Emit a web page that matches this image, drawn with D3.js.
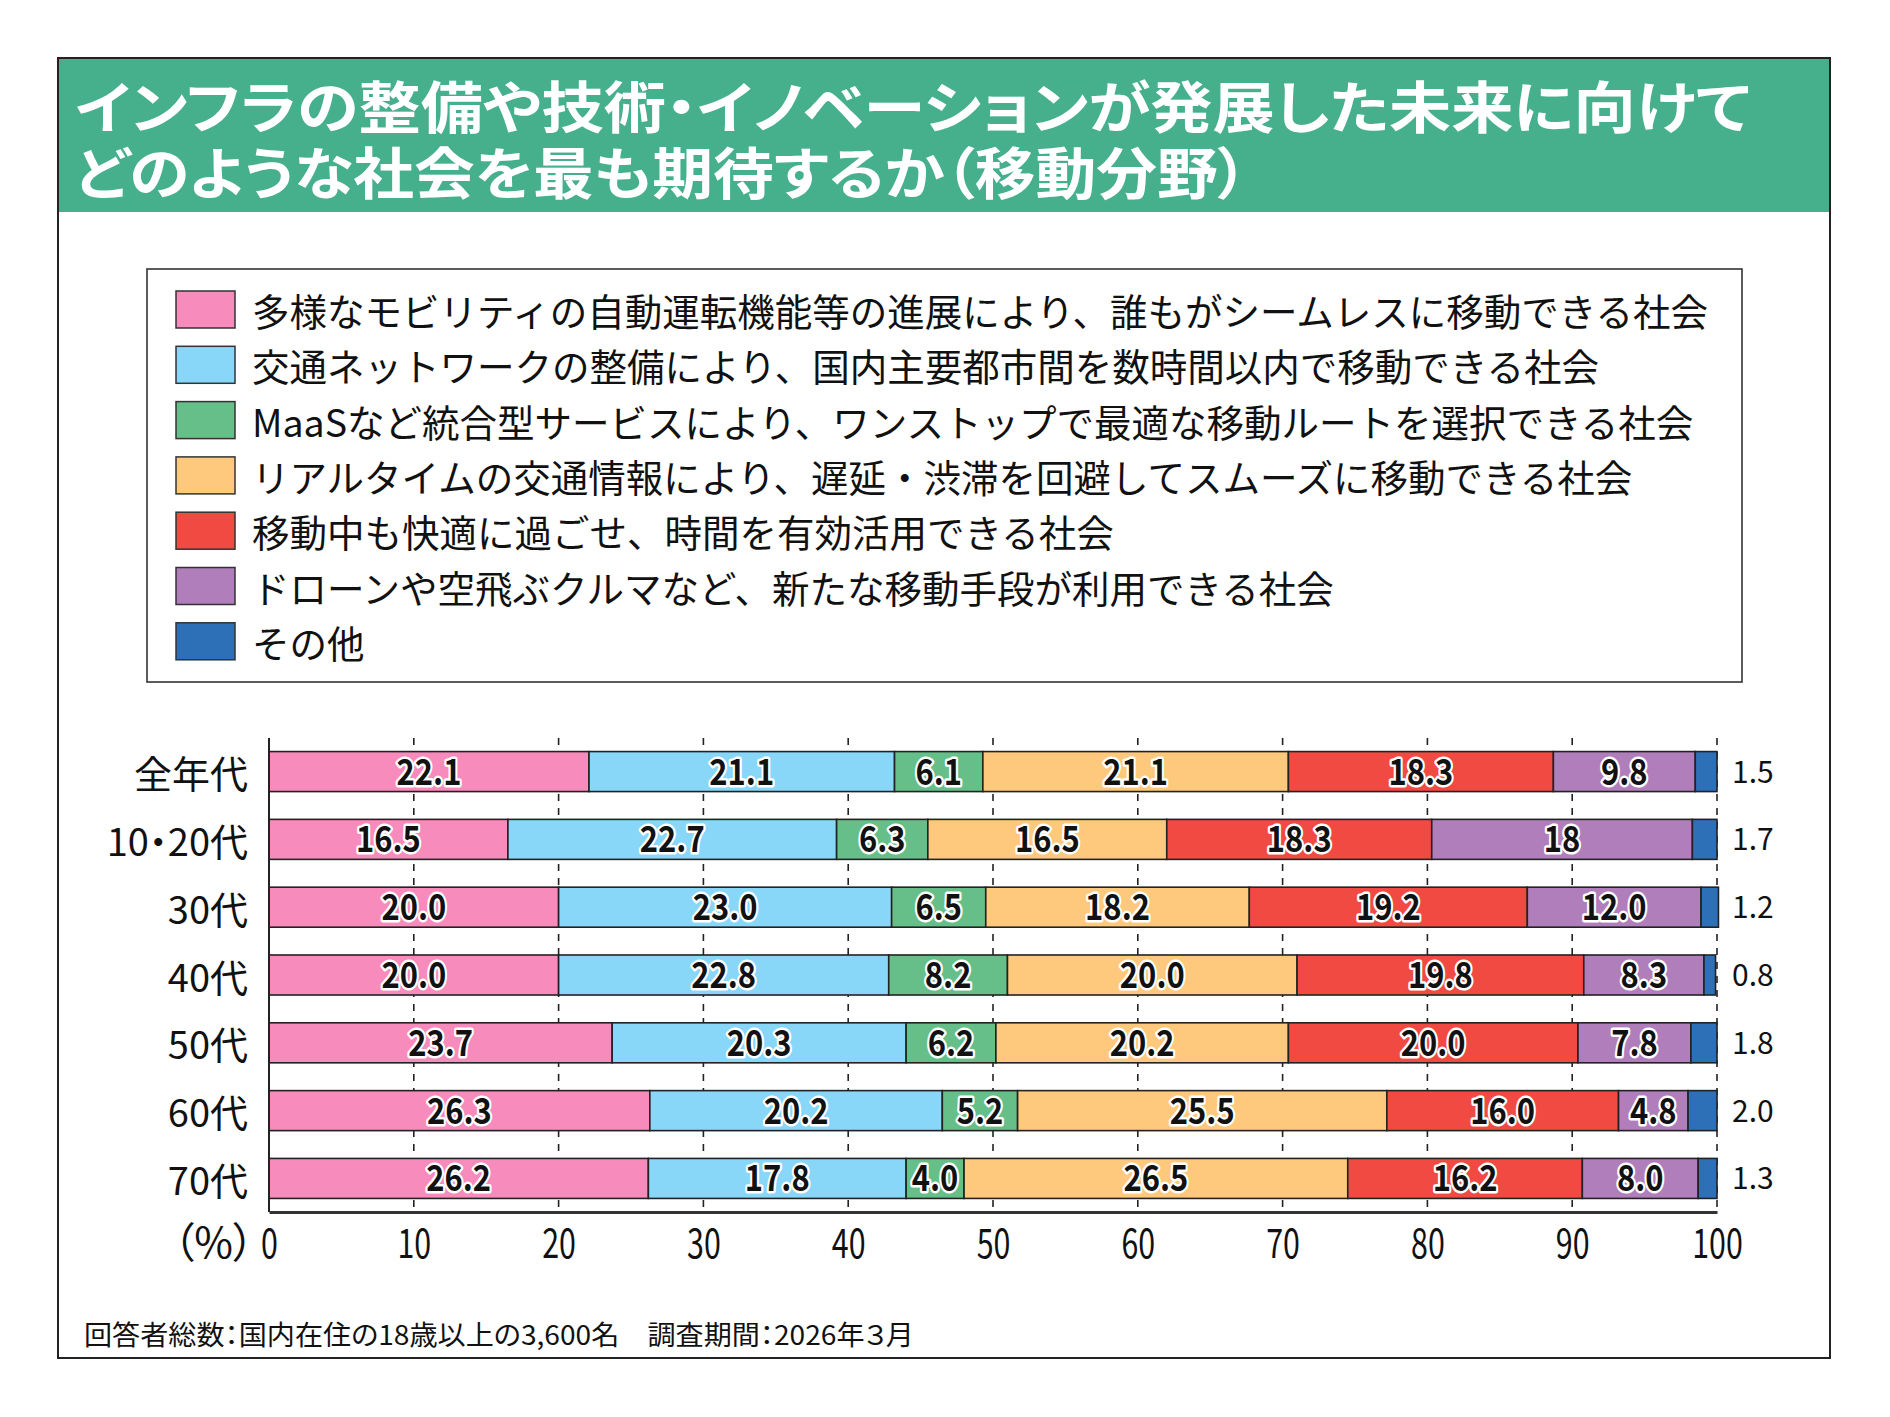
<!DOCTYPE html>
<html><head><meta charset="utf-8">
<script src="https://cdn.jsdelivr.net/npm/d3@7"></script>
<style>
html,body{margin:0;padding:0;background:#fff}
text{font-family:"Noto Sans CJK JP","Noto Sans",sans-serif}
.palt{font-feature-settings:"palt"}
</style>
</head><body>
<svg id="chart" width="1890" height="1417"></svg>
<script>
// ---------- data ----------
const titleLines = [
  "インフラの整備や技術・イノベーションが発展した未来に向けて",
  "どのような社会を最も期待するか（移動分野）"
];
const categories = ["全年代","10・20代","30代","40代","50代","60代","70代"];
const seriesNames = [
  "多様なモビリティの自動運転機能等の進展により、誰もがシームレスに移動できる社会",
  "交通ネットワークの整備により、国内主要都市間を数時間以内で移動できる社会",
  "MaaSなど統合型サービスにより、ワンストップで最適な移動ルートを選択できる社会",
  "リアルタイムの交通情報により、遅延・渋滞を回避してスムーズに移動できる社会",
  "移動中も快適に過ごせ、時間を有効活用できる社会",
  "ドローンや空飛ぶクルマなど、新たな移動手段が利用できる社会",
  "その他"
];
const seriesColors = ["#F78BBB","#88D6F8","#66BF88","#FEC97C","#F04A43","#B07EBA","#2E70B8"];
// values per series, in category order (as printed)
const sMobility = ["22.1","16.5","20.0","20.0","23.7","26.3","26.2"];
const sNetwork  = ["21.1","22.7","23.0","22.8","20.3","20.2","17.8"];
const sMaaS     = ["6.1","6.3","6.5","8.2","6.2","5.2","4.0"];
const sRealtime = ["21.1","16.5","18.2","20.0","20.2","25.5","26.5"];
const sComfort  = ["18.3","18.3","19.2","19.8","20.0","16.0","16.2"];
const sDrone    = ["9.8","18","12.0","8.3","7.8","4.8","8.0"];
const sOther    = ["1.5","1.7","1.2","0.8","1.8","2.0","1.3"];
const xTicks = [0,10,20,30,40,50,60,70,80,90,100];
const unitLabel = "（%）";
const footnote = "回答者総数：国内在住の18歳以上の3,600名　調査期間：2026年３月";

// ---------- build ----------
const seriesValues = [sMobility,sNetwork,sMaaS,sRealtime,sComfort,sDrone,sOther];
const keys = seriesValues.map((_,i)=>"s"+i);
const table = categories.map((c,ci)=>{
  const row = {cat:c};
  keys.forEach((k,si)=>{ row[k] = +seriesValues[si][ci]; row[k+"_label"] = seriesValues[si][ci]; });
  return row;
});
const stacked = d3.stack().keys(keys)(table);

const svg = d3.select("#chart");
const W = 1890, H = 1417;
svg.append("rect").attr("width",W).attr("height",H).attr("fill","#fff");

// frame + header
svg.append("rect").attr("x",58).attr("y",58).attr("width",1772).attr("height",154).attr("fill","#45B08B");
svg.append("rect").attr("x",58).attr("y",58).attr("width",1772).attr("height",1300)
  .attr("fill","none").attr("stroke","#222").attr("stroke-width",2);

const titleWidths = [1675,1173];
svg.selectAll("text.title").data(titleLines).join("text")
  .attr("class","title palt")
  .attr("x",75).attr("y",(d,i)=>103+i*66)
  .attr("dominant-baseline","central")
  .attr("font-size",56).attr("font-weight",700).attr("fill","#fff")
  .attr("textLength",(d,i)=>titleWidths[i]).attr("lengthAdjust","spacingAndGlyphs")
  .text(d=>d);

// legend
const lg = svg.append("g");
lg.append("rect").attr("x",147).attr("y",269).attr("width",1595).attr("height",413)
  .attr("fill","#fff").attr("stroke","#333").attr("stroke-width",1.6);
const li = lg.selectAll("g.li").data(seriesNames).join("g").attr("class","li")
  .attr("transform",(d,i)=>`translate(0,${291+i*55.3})`);
li.append("rect").attr("x",176).attr("y",0).attr("width",59).attr("height",37)
  .attr("fill",(d,i)=>seriesColors[i]).attr("stroke","#333").attr("stroke-width",1.5);
li.append("text").attr("x",252).attr("y",18.5).attr("dominant-baseline","central")
  .attr("font-size",37.5).attr("fill","#111").text(d=>d);

// scales
const x = d3.scaleLinear().domain([0,100]).range([269,1717]);
const y = d3.scaleBand().domain(categories).range([738,1212]).paddingInner(0.41).paddingOuter(0.2);

// grid
svg.append("g").selectAll("line").data(xTicks.filter(t=>t>0)).join("line")
  .attr("x1",d=>x(d)).attr("x2",d=>x(d)).attr("y1",738).attr("y2",1212)
  .attr("stroke","#222").attr("stroke-width",1.6).attr("stroke-dasharray","7,7");

// bars
const layers = svg.append("g").selectAll("g").data(stacked).join("g")
  .attr("fill",(d,i)=>seriesColors[i]);
layers.selectAll("rect").data(d=>d).join("rect")
  .attr("x",d=>x(d[0])).attr("width",d=>x(d[1])-x(d[0]))
  .attr("y",d=>y(d.data.cat)).attr("height",y.bandwidth())
  .attr("stroke","#222").attr("stroke-width",1.6);

// labels inside bars (all but last series)
const lbl = svg.append("g");
stacked.forEach((layer,si)=>{
  if(si===stacked.length-1) return;
  lbl.selectAll(null).data(layer).join("text")
    .attr("transform",d=>`translate(${(x(d[0])+x(d[1]))/2},${y(d.data.cat)+y.bandwidth()/2+13}) scale(0.86,1)`)
    .attr("text-anchor","middle").attr("font-size",36).attr("font-weight",700)
    .attr("fill","#111").attr("stroke","#fff").attr("stroke-width",5)
    .attr("stroke-linejoin","round").attr("paint-order","stroke")
    .text(d=>d.data[layer.key+"_label"]);
});
// last series labels outside
const lastLayer = stacked[stacked.length-1];
svg.append("g").selectAll("text").data(lastLayer).join("text")
  .attr("x",1732).attr("y",d=>y(d.data.cat)+y.bandwidth()/2+11)
  .attr("font-size",30).attr("fill","#111")
  .text(d=>d.data[lastLayer.key+"_label"]);

// axes lines
svg.append("line").attr("x1",x(0)).attr("x2",x(0)).attr("y1",738).attr("y2",1212)
  .attr("stroke","#222").attr("stroke-width",2);
const xAxis = svg.append("g").attr("transform","translate(0,1212)")
  .call(d3.axisBottom(x).tickValues(xTicks).tickSize(0).tickFormat(d3.format("d")));
xAxis.select(".domain").attr("stroke","#333").attr("stroke-width",3);
xAxis.selectAll(".tick text")
  .attr("y",0).attr("dy",null)
  .attr("transform","translate(0,46) scale(0.76,1)")
  .attr("font-size",40).attr("fill","#111")
  .style("font-family",'"Noto Sans CJK JP",sans-serif');

svg.append("text").attr("class","palt").attr("x",254).attr("y",1258)
  .attr("text-anchor","end").attr("font-size",42).attr("fill","#111").text(unitLabel);

// category labels
svg.append("g").selectAll("text").data(categories).join("text")
  .attr("class","palt")
  .attr("x",248).attr("y",d=>y(d)+y.bandwidth()/2)
  .attr("dominant-baseline","central").attr("text-anchor","end")
  .attr("font-size",38).attr("fill","#111").text(d=>d);

// footnote
svg.append("text").attr("class","palt").attr("x",84).attr("y",1333).attr("dominant-baseline","central")
  .attr("font-size",27).attr("fill","#111")
  .attr("textLength",830).attr("lengthAdjust","spacingAndGlyphs")
  .text(footnote);
</script>
</body></html>
